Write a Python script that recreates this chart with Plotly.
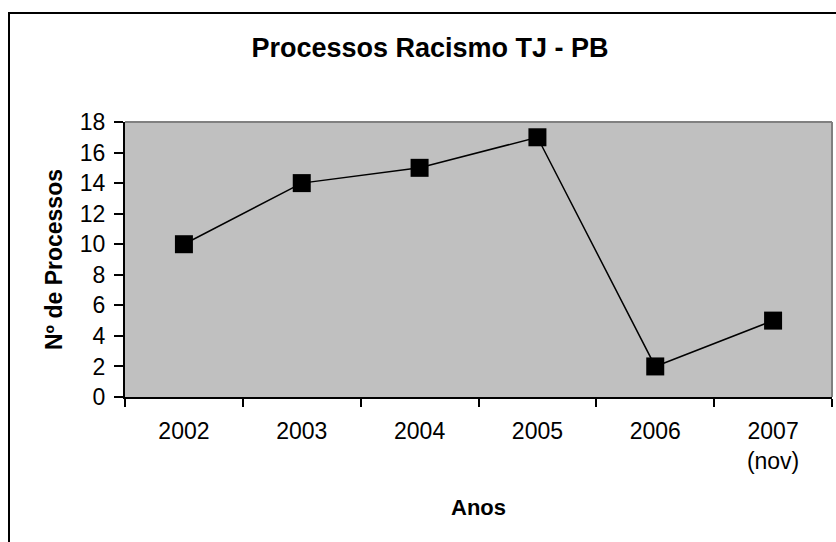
import plotly.graph_objects as go

categories = ["2002", "2003", "2004", "2005", "2006", "2007<br>(nov)"]
values = [10, 14, 15, 17, 2, 5]
y_ticks = [0, 2, 4, 6, 8, 10, 12, 14, 16, 18]

W, H = 836, 542
L, R, T, B = 125, 4, 122, 145
pw, ph = W - L - R, H - T - B

fig = go.Figure()
fig.add_trace(go.Scatter(
    x=categories, y=values, mode="lines+markers",
    line=dict(color="black", width=1.5),
    marker=dict(symbol="square", size=18, color="black"),
    showlegend=False, cliponaxis=False,
))

font = "Liberation Sans, Arial, sans-serif"
fig.update_layout(
    width=W, height=H,
    margin=dict(l=L, r=R, t=T, b=B, pad=0),
    paper_bgcolor="white",
    plot_bgcolor="#C0C0C0",
    font=dict(family=font, size=23, color="black"),
    title=dict(text="<b>Processos Racismo TJ - PB</b>", x=430 / W,
               xanchor="center", y=1 - 48 / H, yanchor="middle",
               font=dict(size=27, family=font, color="black")),
    xaxis=dict(
        type="category", tickson="boundaries", ticks="outside", ticklen=8,
        tickcolor="black", tickwidth=1.5, showline=True, linecolor="black", linewidth=2,
        showgrid=False, mirror=False, range=[-0.5, 5.5], automargin=False,
        tickfont=dict(size=23), ticklabelstandoff=12,
        title=dict(text="<b>Anos</b>", font=dict(size=22), standoff=27),
    ),
    yaxis=dict(
        range=[0, 18], tickvals=y_ticks, ticks="outside", ticklen=9,
        tickcolor="black", tickwidth=1.5, showline=True, linecolor="black", linewidth=2,
        showgrid=False, zeroline=False, tickfont=dict(size=23), automargin=False,
        ticklabelstandoff=4,
        title=dict(text="<b>Nº de Processos</b>", font=dict(size=23), standoff=11),
    ),
    shapes=[
        dict(type="line", xref="paper", yref="paper", x0=0, x1=1, y0=1, y1=1,
             line=dict(color="#808080", width=2)),
        dict(type="line", xref="paper", yref="paper", x0=1, x1=1, y0=0, y1=1,
             line=dict(color="#808080", width=2)),
        dict(type="rect", xref="paper", yref="paper",
             x0=(9 - L) / pw, x1=(W + 10 - L) / pw,
             y0=(H - B - (H + 10)) / ph, y1=(H - B - 13) / ph,
             line=dict(color="black", width=2), fillcolor="rgba(0,0,0,0)", layer="above"),
    ],
)

fig.write_html("out.html", config={"displayModeBar": False},
               post_script="document.body.style.margin='0';document.body.style.overflow='hidden';")
